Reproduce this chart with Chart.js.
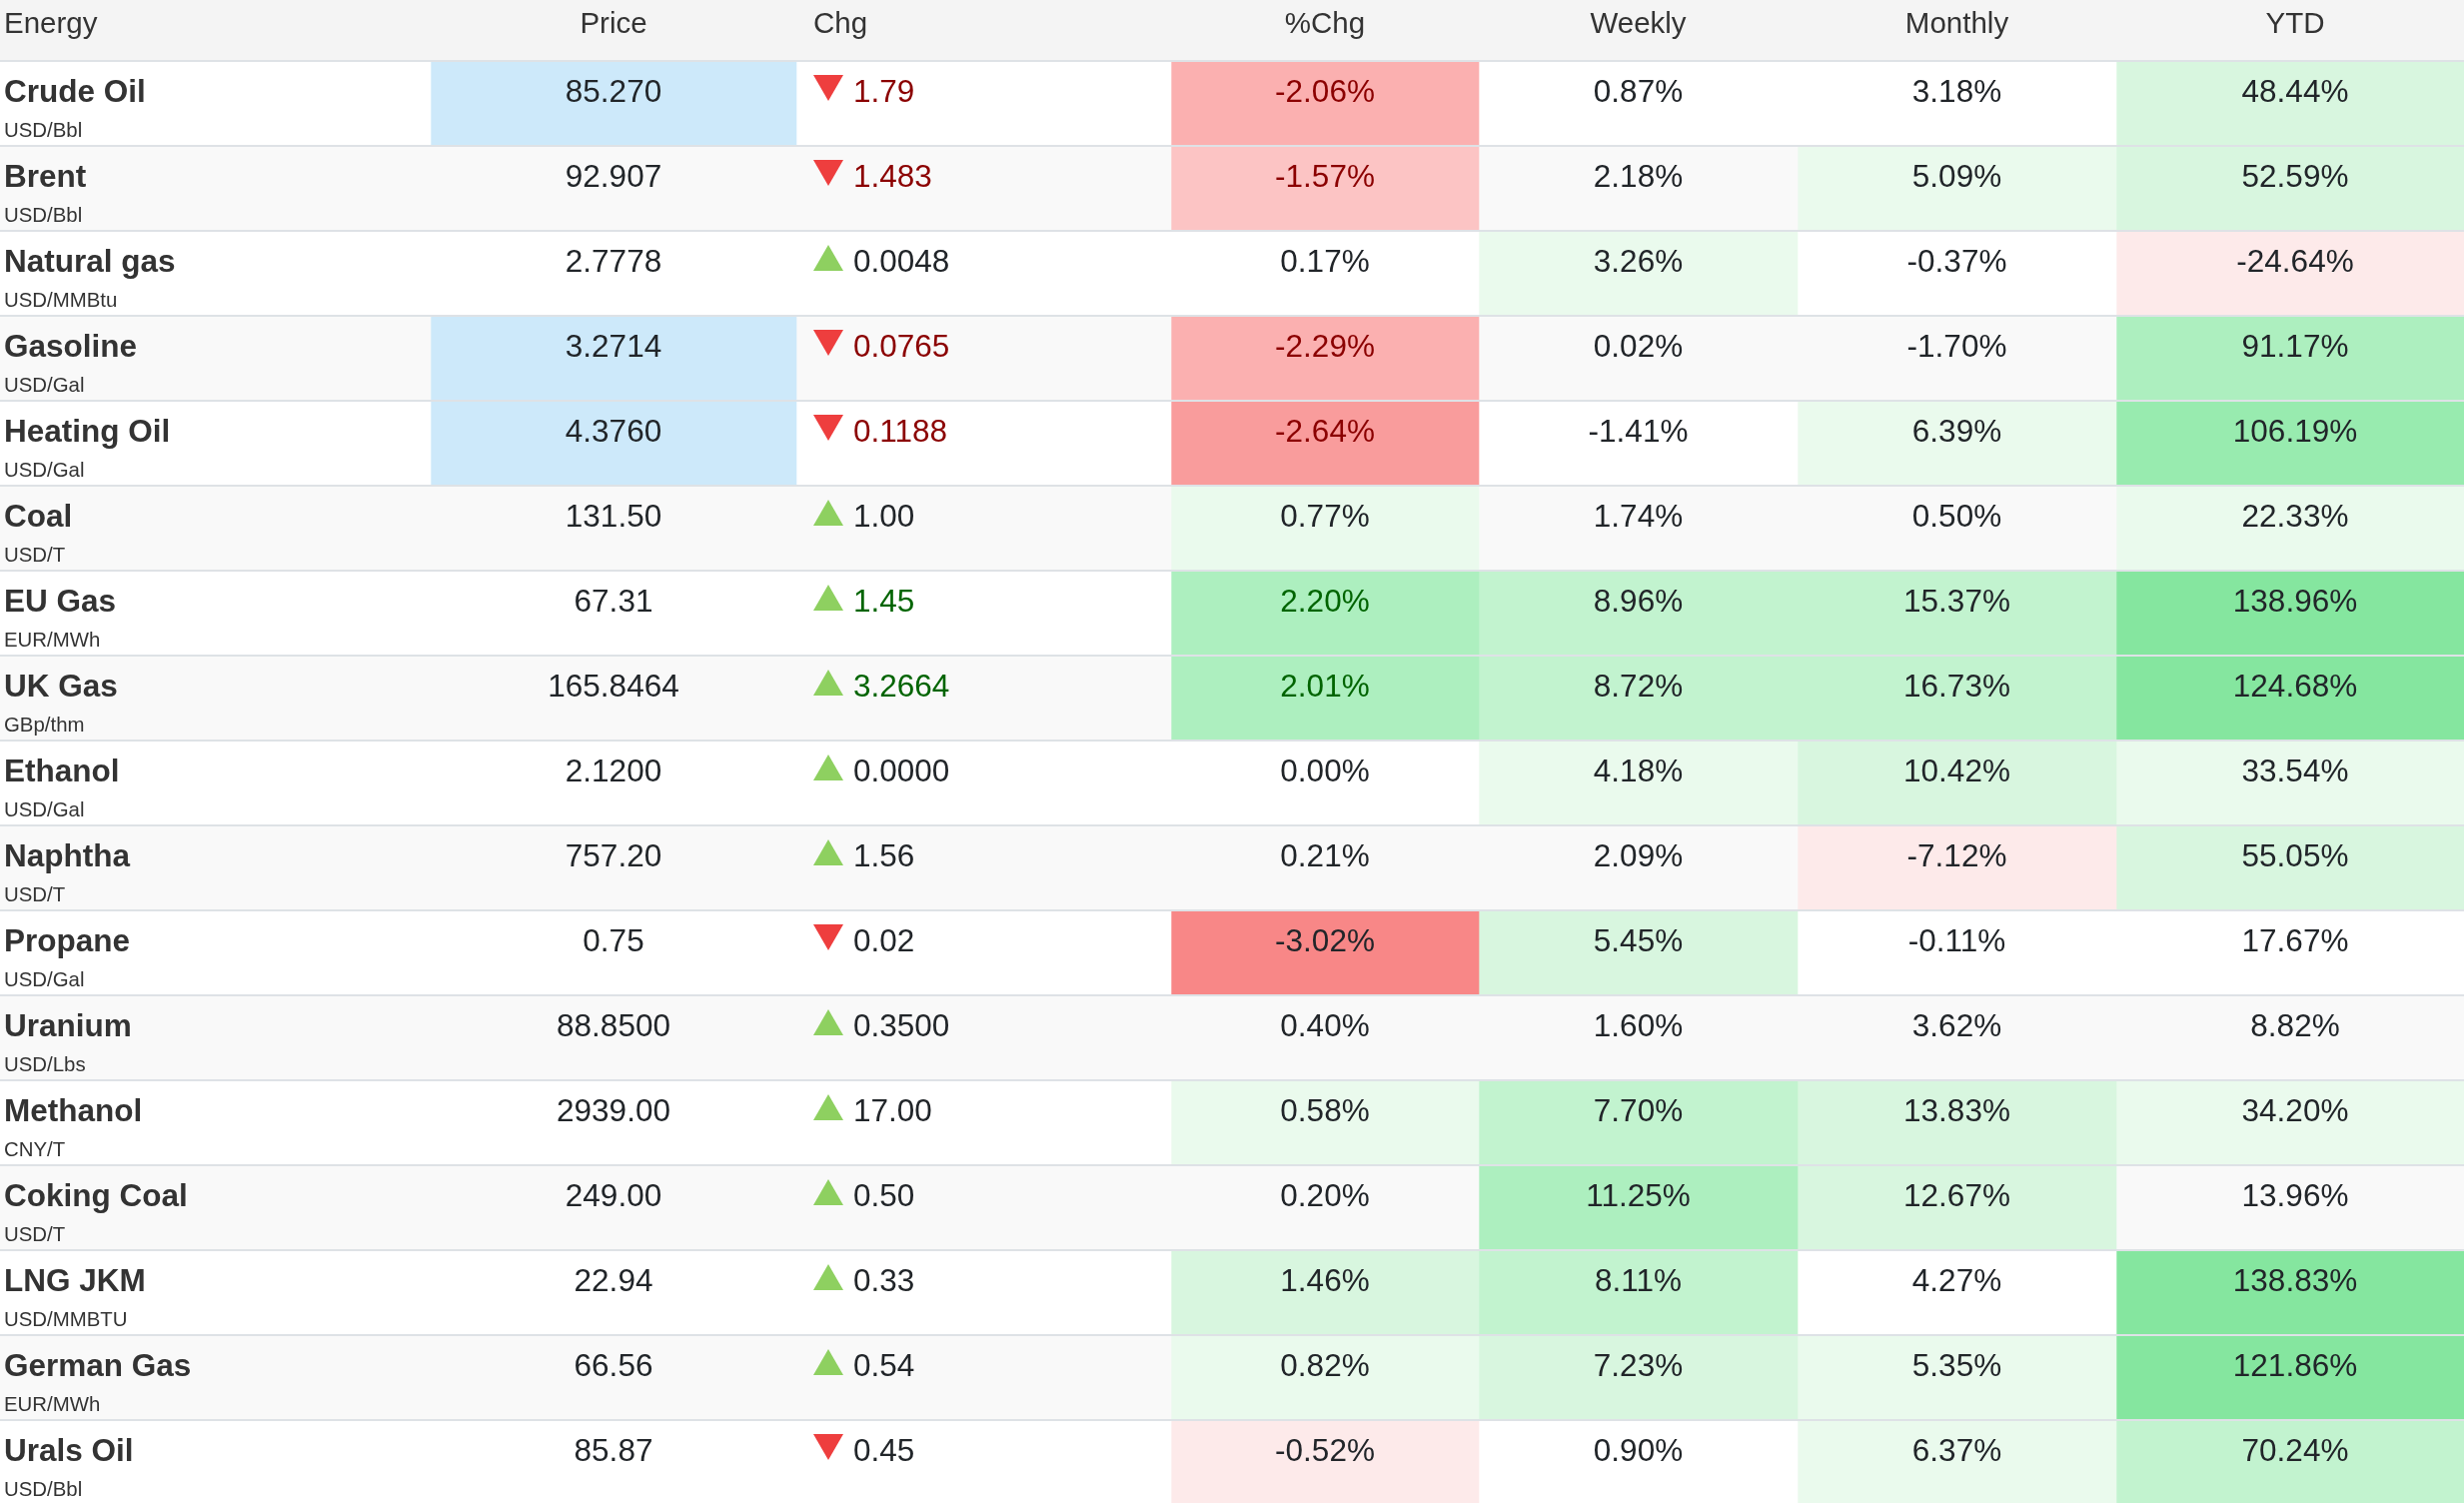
<!DOCTYPE html>
<html>
<head>
<meta charset="utf-8">
<script src="https://cdn.jsdelivr.net/npm/chart.js@4.4.1/dist/chart.umd.min.js"></script>
<style>
  html, body { margin: 0; padding: 0; overflow: hidden; background: #ffffff; }
  #wrap { position: relative; width: 2476px; height: 1506px; }
</style>
</head>
<body>
<div id="wrap"><canvas id="c"></canvas></div>
<script>
// ---------------- DATA ----------------
const headers = ['Energy', 'Price', 'Chg', '%Chg', 'Weekly', 'Monthly', 'YTD'];
const commodities = ['Crude Oil', 'Brent', 'Natural gas', 'Gasoline', 'Heating Oil', 'Coal', 'EU Gas', 'UK Gas', 'Ethanol', 'Naphtha', 'Propane', 'Uranium', 'Methanol', 'Coking Coal', 'LNG JKM', 'German Gas', 'Urals Oil'];
const units = ['USD/Bbl', 'USD/Bbl', 'USD/MMBtu', 'USD/Gal', 'USD/Gal', 'USD/T', 'EUR/MWh', 'GBp/thm', 'USD/Gal', 'USD/T', 'USD/Gal', 'USD/Lbs', 'CNY/T', 'USD/T', 'USD/MMBTU', 'EUR/MWh', 'USD/Bbl'];
const prices = [85.270, 92.907, 2.7778, 3.2714, 4.3760, 131.50, 67.31, 165.8464, 2.1200, 757.20, 0.75, 88.8500, 2939.00, 249.00, 22.94, 66.56, 85.87];
const priceDecimals = [3, 3, 4, 4, 4, 2, 2, 4, 4, 2, 2, 4, 2, 2, 2, 2, 2];
const changes = [-1.79, -1.483, 0.0048, -0.0765, -0.1188, 1.00, 1.45, 3.2664, 0.0000, 1.56, -0.02, 0.3500, 17.00, 0.50, 0.33, 0.54, -0.45];
const changeDecimals = [2, 3, 4, 4, 4, 2, 2, 4, 4, 2, 2, 4, 2, 2, 2, 2, 2];
const pctChg = [-2.06, -1.57, 0.17, -2.29, -2.64, 0.77, 2.20, 2.01, 0.00, 0.21, -3.02, 0.40, 0.58, 0.20, 1.46, 0.82, -0.52];
const weekly = [0.87, 2.18, 3.26, 0.02, -1.41, 1.74, 8.96, 8.72, 4.18, 2.09, 5.45, 1.60, 7.70, 11.25, 8.11, 7.23, 0.90];
const monthly = [3.18, 5.09, -0.37, -1.70, 6.39, 0.50, 15.37, 16.73, 10.42, -7.12, -0.11, 3.62, 13.83, 12.67, 4.27, 5.35, 6.37];
const ytd = [48.44, 52.59, -24.64, 91.17, 106.19, 22.33, 138.96, 124.68, 33.54, 55.05, 17.67, 8.82, 34.20, 13.96, 138.83, 121.86, 70.24];
const flashRows = ['Crude Oil', 'Gasoline', 'Heating Oil'];          // price just updated
const liveRows = ['Crude Oil', 'Brent', 'Gasoline', 'Heating Oil', 'EU Gas', 'UK Gas'];

// ---------------- LAYOUT / STYLE ----------------
const COL_EDGES = [0, 431, 797, 1172, 1480, 1799, 2118, 2476];
const HEADER_H = 61;
const FONT = '"Liberation Sans", Arial, Helvetica, sans-serif';
const heatSeries = { 3: pctChg, 4: weekly, 5: monthly, 6: ytd };
const heatStep = { 3: 0.5, 4: 2.5, 5: 5, 6: 20 };
const GREENS = ['#eafaed', '#d8f6df', '#c2f3cf', '#adefbf', '#98ebaf', '#85e69f'];
const REDS = ['#fdeaea', '#fdd8d8', '#fcc4c4', '#fbb0b0', '#f99c9c', '#f88787'];

function stripe(r) { return r % 2 === 1 ? '#f9f9f9' : '#ffffff'; }
function cellColor(col, r) {
  if (col === 1 && flashRows.includes(commodities[r])) return '#cde9fa';
  if (heatSeries[col]) {
    const v = heatSeries[col][r];
    const lvl = Math.min(6, Math.floor(Math.abs(v) / heatStep[col] + 1e-9));
    if (lvl > 0) return v < 0 ? REDS[lvl - 1] : GREENS[lvl - 1];
  }
  return stripe(r);
}

const datasets = headers.map((h, col) => ({
  label: h,
  data: commodities.map(c => ({ x: [COL_EDGES[col], COL_EDGES[col + 1]], y: c })),
  backgroundColor: commodities.map((c, r) => cellColor(col, r)),
  borderWidth: 0,
  barPercentage: 1,
  categoryPercentage: 1
}));

function fmtPct(v) { return v.toFixed(2) + '%'; }

const tablePlugin = {
  id: 'tableText',
  beforeDraw(chart) {
    const ctx = chart.ctx;
    const xs = chart.scales.x;
    ctx.save();
    ctx.fillStyle = '#f4f4f4';
    ctx.fillRect(0, 0, chart.width, HEADER_H);
    ctx.fillStyle = '#333333';
    ctx.font = '29.5px ' + FONT;
    ctx.textBaseline = 'alphabetic';
    headers.forEach((h, col) => {
      const a = xs.getPixelForValue(COL_EDGES[col]);
      const b = xs.getPixelForValue(COL_EDGES[col + 1]);
      if (col === 0) { ctx.textAlign = 'left'; ctx.fillText(h, a + 4, 33); }
      else if (col === 2) { ctx.textAlign = 'left'; ctx.fillText(h, a + 17, 33); }
      else { ctx.textAlign = 'center'; ctx.fillText(h, (a + b) / 2, 33); }
    });
    ctx.restore();
  },
  afterDatasetsDraw(chart) {
    const ctx = chart.ctx;
    const xs = chart.scales.x, ys = chart.scales.y;
    const rowH = ys.getPixelForValue(1) - ys.getPixelForValue(0);
    const px = v => xs.getPixelForValue(v);
    ctx.save();
    ctx.textBaseline = 'alphabetic';
    commodities.forEach((name, r) => {
      const top = ys.getPixelForValue(r) - rowH / 2;
      const base = top + 40.5;
      const live = liveRows.includes(name);
      // name + unit
      ctx.textAlign = 'left';
      ctx.fillStyle = '#333333';
      ctx.font = 'bold 31.5px ' + FONT;
      ctx.fillText(name, px(COL_EDGES[0]) + 4, base);
      ctx.font = '20.4px ' + FONT;
      ctx.fillText(units[r], px(COL_EDGES[0]) + 4, top + 76);
      // price
      ctx.font = '31.5px ' + FONT;
      ctx.textAlign = 'center';
      ctx.fillStyle = '#212529';
      ctx.fillText(prices[r].toFixed(priceDecimals[r]), (px(COL_EDGES[1]) + px(COL_EDGES[2])) / 2, base);
      // change with triangle
      const ch = changes[r];
      const down = ch < 0;
      const tx = px(COL_EDGES[2]) + 17;
      ctx.beginPath();
      if (down) {
        ctx.moveTo(tx, top + 14); ctx.lineTo(tx + 30, top + 14); ctx.lineTo(tx + 15, top + 40);
        ctx.fillStyle = '#ee3e3e';
      } else {
        ctx.moveTo(tx + 15, top + 14); ctx.lineTo(tx + 30, top + 40); ctx.lineTo(tx, top + 40);
        ctx.fillStyle = '#8ed060';
      }
      ctx.closePath();
      ctx.fill();
      const liveColor = down ? '#8b0000' : '#006400';
      ctx.fillStyle = live ? liveColor : '#212529';
      ctx.textAlign = 'left';
      ctx.fillText(Math.abs(ch).toFixed(changeDecimals[r]), tx + 40, base);
      // percentage columns
      ctx.textAlign = 'center';
      [3, 4, 5, 6].forEach(col => {
        const v = heatSeries[col][r];
        if (col === 3 && live) ctx.fillStyle = v < 0 ? '#8b0000' : '#006400';
        else ctx.fillStyle = '#212529';
        ctx.fillText(fmtPct(v), (px(COL_EDGES[col]) + px(COL_EDGES[col + 1])) / 2, base);
      });
    });
    ctx.restore();
  }
};

new Chart(document.getElementById('c'), {
  type: 'bar',
  data: { labels: commodities, datasets },
  options: {
    indexAxis: 'y',
    responsive: true,
    maintainAspectRatio: false,
    devicePixelRatio: 1,
    animation: false,
    grouped: false,
    layout: { padding: { top: HEADER_H, left: 0, right: 0, bottom: 0 } },
    plugins: { legend: { display: false }, tooltip: { enabled: false } },
    scales: {
      x: { type: 'linear', min: COL_EDGES[0], max: COL_EDGES[COL_EDGES.length - 1], display: false },
      y: {
        type: 'category',
        offset: true,
        grid: { offset: true, color: '#dee2e6', lineWidth: 2, z: 1, drawTicks: false },
        ticks: { display: false },
        border: { display: false }
      }
    }
  },
  plugins: [tablePlugin]
});
</script>
</body>
</html>
